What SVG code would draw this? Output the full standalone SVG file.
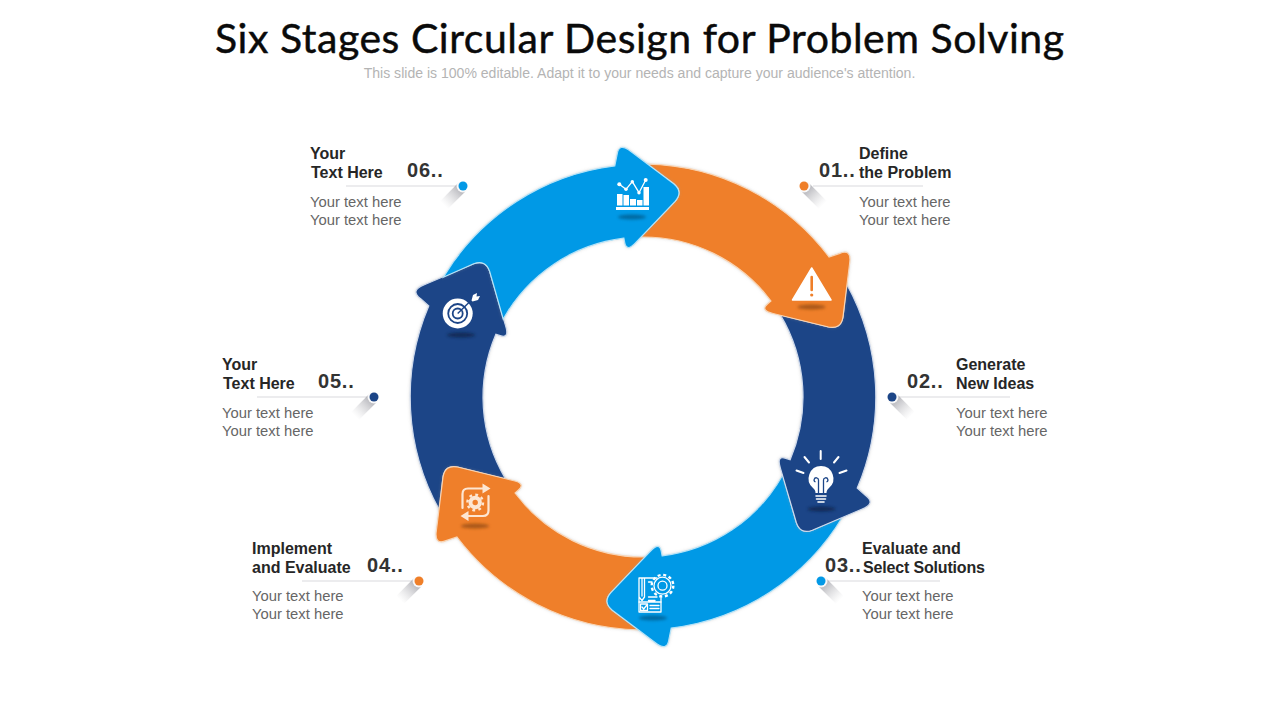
<svg xmlns="http://www.w3.org/2000/svg" xmlns:xlink="http://www.w3.org/1999/xlink" width="1280" height="720" viewBox="0 0 1280 720">
<style>
text{font-family:"Liberation Sans",Arial,sans-serif}
.title{font-family:Lato,"Noto Sans",sans-serif;font-size:41px;fill:#0a0a0a;stroke:#0a0a0a;stroke-width:.45px;text-anchor:start}
.sub{font-size:14.05px;fill:#b4b4b4;text-anchor:middle}
.head{font-size:16px;font-weight:bold;fill:#262626}
.num{font-size:20px;font-weight:bold;fill:#333;letter-spacing:.8px}
.body{font-size:14.8px;fill:#666}
.lead{stroke:#d9d9dd;stroke-width:1;fill:none}
.o{fill:#ef7f29;stroke:#f9d5b5}
.b{fill:#0399e6;stroke:#b5e3f8}
.n{fill:#1c4587;stroke:#cfdaec}
.arrow{stroke-width:1.2}
.ws{stroke:#fff;fill:none;stroke-linecap:round;stroke-linejoin:round}
.wf{fill:#fff}
</style>
<defs>
<path id="arrow" d="M646.900 164.200A233 233 0 0 1 829 257L839.200 253.600Q852 248 849.600 263.800L843 317Q841 329.500 828.500 327L773 313.500Q760 310.500 767.500 304L771 301A160 160 0 0 0 640.600 237L675.100 201.400Q683.500 191.800 673.700 183.800Z"/>
<filter id="halo" x="-10%" y="-10%" width="120%" height="120%"><feDropShadow dx="0" dy="0" stdDeviation="1.800" flood-color="#9a9a9a" flood-opacity=".35"/></filter>
<filter id="blur" x="-40%" y="-200%" width="180%" height="500%"><feGaussianBlur stdDeviation="1.600"/></filter>
<linearGradient id="tail" x1="0" y1="0" x2="1" y2="0"><stop offset="0" stop-color="#9f9fa6" stop-opacity=".95"/><stop offset="1" stop-color="#c8c8cc" stop-opacity="0"/></linearGradient>
<g id="pin"><rect x="0" y="-5.500" width="27" height="11" fill="url(#tail)"/></g>
</defs>
<rect width="1280" height="720" fill="#fff"/>
<text class="title" x="215" y="53" textLength="849" lengthAdjust="spacing">Six Stages Circular Design for Problem Solving</text>
<text class="sub" x="639.500" y="78">This slide is 100% editable. Adapt it to your needs and capture your audience's attention.</text>
<g id="connectors">
<path class="lead" d="M813 186H923M898 397H1010M827 581H940M302 581H413M257 397H368M346 186H457"/>
<use xlink:href="#pin" href="#pin" transform="translate(804 186) rotate(45)"/>
<use xlink:href="#pin" href="#pin" transform="translate(892 397) rotate(45)"/>
<use xlink:href="#pin" href="#pin" transform="translate(821 581) rotate(45)"/>
<use xlink:href="#pin" href="#pin" transform="translate(419 581) rotate(135)"/>
<use xlink:href="#pin" href="#pin" transform="translate(374 397) rotate(135)"/>
<use xlink:href="#pin" href="#pin" transform="translate(463 186) rotate(135)"/>
</g>
<g id="stage5" filter="url(#halo)"><use href="#arrow" xlink:href="#arrow" class="arrow n" transform="rotate(240 643 397)"/></g>
<g id="stage4" filter="url(#halo)"><use href="#arrow" xlink:href="#arrow" class="arrow o" transform="rotate(180 643 397)"/></g>
<g id="stage3" filter="url(#halo)"><use href="#arrow" xlink:href="#arrow" class="arrow b" transform="rotate(120 643 397)"/></g>
<g id="stage2" filter="url(#halo)"><use href="#arrow" xlink:href="#arrow" class="arrow n" transform="rotate(60 643 397)"/></g>
<g id="stage1" filter="url(#halo)"><use href="#arrow" xlink:href="#arrow" class="arrow o"/></g>
<g id="stage6" filter="url(#halo)"><use href="#arrow" xlink:href="#arrow" class="arrow b" transform="rotate(300 643 397)"/></g>

<g id="icon1">
<ellipse cx="811.500" cy="307" rx="14" ry="2.500" fill="#7a3c0c" opacity=".6" filter="url(#blur)"/>
<path d="M811.700 268L831 300H792.500Z" fill="#fff" stroke="#fff" stroke-width="1.500" stroke-linejoin="round"/>
<path d="M811.700 277V290" stroke="#ef7f29" stroke-width="2.600" stroke-linecap="round"/><circle cx="811.700" cy="295" r="1.600" fill="#ef7f29"/>
</g>
<g id="icon2">
<ellipse cx="821.500" cy="509" rx="14" ry="2.500" fill="#0b1d3d" opacity=".65" filter="url(#blur)"/>
<path class="ws" stroke-width="2" d="M820.700 451V459M804.500 457L809 462.500M838.500 457L834 462.500M796.500 470.500L803.500 473M846.500 470.500L839.500 473"/>
<path class="wf" d="M821 466a12.500 12.500 0 0 1 8 22c-2 2-2.500 3-2.500 5h-11c0-2-.5-3-2.500-5a12.500 12.500 0 0 1 8-22z"/>
<path d="M818.500 493V480a2.200 2.200 0 1 0-3 2M823.500 493V480a2.200 2.200 0 1 1 3 2" fill="none" stroke="#1c4587" stroke-width="1.300"/>
<path class="ws" stroke-width="1.600" d="M816 496H826M816.500 499H825.500M818 502H824"/>
</g>
<g id="icon3">
<ellipse cx="653" cy="618" rx="14" ry="2.500" fill="#03507c" opacity=".65" filter="url(#blur)"/>
<circle cx="662.500" cy="585.700" r="10.800" fill="none" stroke="#fff" stroke-width="2.400" stroke-dasharray="3 2.700"/>
<g class="ws" stroke-width="1.300">
<circle cx="662.500" cy="585.700" r="8.500"/><circle cx="662.500" cy="585.700" r="4.500"/>
<path d="M639 578H657M639 578V612H661V598M639 578H644.500V597L642 600.500L639 597M642 578V596"/>
<path d="M648.500 582H652M648.500 597H657M648.500 600.500H655M639 602H661"/>
<path d="M640.500 604H647.500V610.500H640.500ZM642 607L643.700 609L646.500 605.500M650 605.500H659M650 608.500H659"/>
</g>
</g>
<g id="icon4">
<ellipse cx="475" cy="526" rx="14" ry="2.500" fill="#7a3c0c" opacity=".6" filter="url(#blur)"/>
<g fill="none" stroke="#fde6d2" stroke-width="2.200" stroke-linecap="round" stroke-linejoin="round">
<path d="M484 488.500H468Q462.500 488.500 462.500 494V508"/>
<path d="M467 516H483Q488.500 516 488.500 510.500V496"/>
</g>
<path fill="#fde6d2" d="M482.500 483.500L490.500 488.500L482.500 493.500ZM468.500 511L460.500 516L468.500 521Z"/>
<circle cx="475.200" cy="502.500" r="4.700" fill="none" stroke="#fde6d2" stroke-width="4"/>
<circle cx="475.200" cy="502.500" r="7.800" fill="none" stroke="#fde6d2" stroke-width="2.400" stroke-dasharray="2.800 3.300"/>
</g>
<g id="icon5">
<ellipse cx="461" cy="335" rx="14" ry="2.500" fill="#0b1d3d" opacity=".65" filter="url(#blur)"/>
<circle cx="457.700" cy="313.500" r="15" fill="#fff"/>
<circle cx="457.700" cy="313.500" r="9.500" fill="none" stroke="#1c4587" stroke-width="1.800"/>
<circle cx="457.700" cy="313.500" r="5" fill="none" stroke="#1c4587" stroke-width="1.800"/>
<path d="M457.700 313.500L471 300.500" stroke="#1c4587" stroke-width="1.400"/>
<path d="M471.500 300.500L473 295L477 293L476.500 296.500L480 296L478 300L472.500 301.500Z" fill="#fff"/>
</g>
<g id="icon6">
<ellipse cx="632" cy="217" rx="14" ry="2.500" fill="#03507c" opacity=".65" filter="url(#blur)"/>
<path class="wf" d="M616 207H649V210H616ZM617 194H622.500V205.500H617ZM623.500 195H629V205.500H623.500ZM630 199H636V205.500H630ZM637 200H642.500V205.500H637ZM643.500 187H649V205.500H643.500Z"/>
<path class="ws" stroke-width="1.300" d="M619.300 184.300L626 189.300L632.300 181.700L639 192.700L645.700 180"/>
<g class="wf"><circle cx="619.300" cy="184.300" r="2"/><circle cx="626" cy="189.300" r="1.700"/><circle cx="632.300" cy="181.700" r="1.700"/><circle cx="639" cy="192.700" r="1.700"/><circle cx="645.700" cy="180" r="2"/></g>
</g>

<g id="label1">
<circle cx="804" cy="186" r="6.500" fill="#fff" opacity=".9"/><circle cx="804" cy="186" r="4.500" fill="#ef7f29"/>
<text class="num" x="819" y="177">01..</text>
<text class="head" x="859" y="159">Define</text><text class="head" x="859" y="178">the Problem</text>
<text class="body" x="859" y="207">Your text here</text><text class="body" x="859" y="225">Your text here</text>
</g>
<g id="label2">
<circle cx="892" cy="397" r="6.500" fill="#fff" opacity=".9"/><circle cx="892" cy="397" r="4.500" fill="#1c4587"/>
<text class="num" x="907" y="388">02..</text>
<text class="head" x="956" y="370">Generate</text><text class="head" x="956" y="389">New Ideas</text>
<text class="body" x="956" y="418">Your text here</text><text class="body" x="956" y="436">Your text here</text>
</g>
<g id="label3">
<circle cx="821" cy="581" r="6.500" fill="#fff" opacity=".9"/><circle cx="821" cy="581" r="4.500" fill="#0399e6"/>
<text class="num" x="825" y="572">03..</text>
<text class="head" x="862" y="554">Evaluate and</text><text class="head" x="863" y="573" textLength="122">Select Solutions</text>
<text class="body" x="862" y="601">Your text here</text><text class="body" x="862" y="619">Your text here</text>
</g>
<g id="label4">
<circle cx="419" cy="581" r="6.500" fill="#fff" opacity=".9"/><circle cx="419" cy="581" r="4.500" fill="#ef7f29"/>
<text class="num" x="367" y="572">04..</text>
<text class="head" x="252" y="554">Implement</text><text class="head" x="252" y="573">and Evaluate</text>
<text class="body" x="252" y="601">Your text here</text><text class="body" x="252" y="619">Your text here</text>
</g>
<g id="label5">
<circle cx="374" cy="397" r="6.500" fill="#fff" opacity=".9"/><circle cx="374" cy="397" r="4.500" fill="#1c4587"/>
<text class="num" x="318" y="388">05..</text>
<text class="head" x="222" y="370">Your</text><text class="head" x="223" y="389">Text Here</text>
<text class="body" x="222" y="418">Your text here</text><text class="body" x="222" y="436">Your text here</text>
</g>
<g id="label6">
<circle cx="463" cy="186" r="6.500" fill="#fff" opacity=".9"/><circle cx="463" cy="186" r="4.500" fill="#0399e6"/>
<text class="num" x="407" y="177">06..</text>
<text class="head" x="310" y="159">Your</text><text class="head" x="311" y="178">Text Here</text>
<text class="body" x="310" y="207">Your text here</text><text class="body" x="310" y="225">Your text here</text>
</g>
</svg>
